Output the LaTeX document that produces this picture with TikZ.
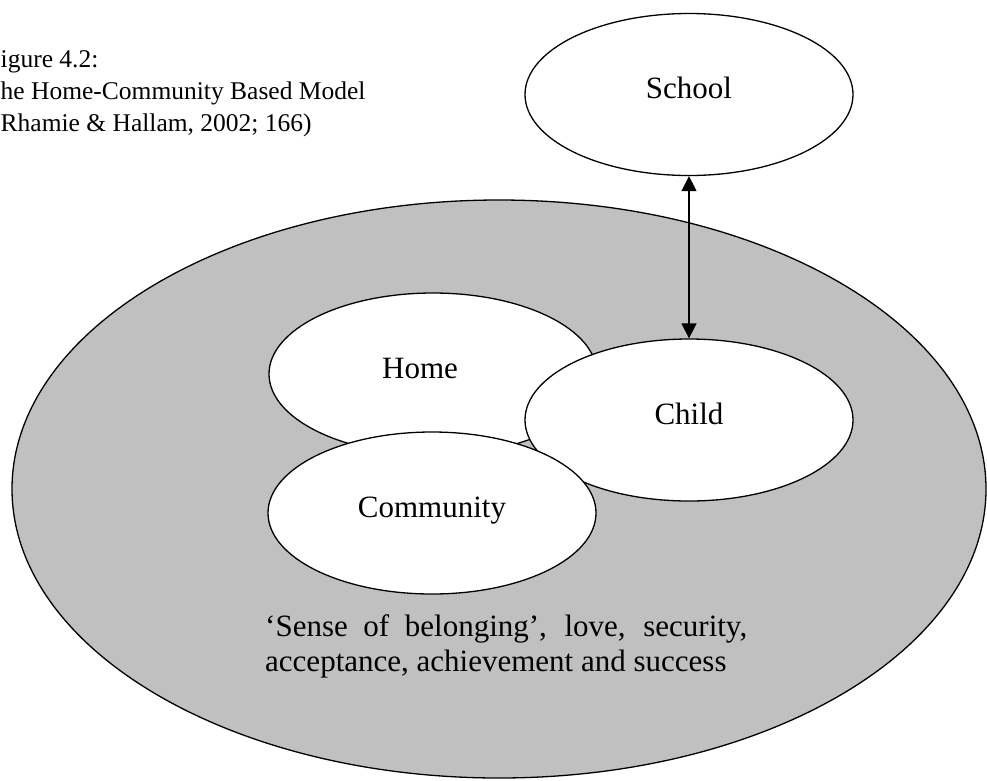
\documentclass[tikz,border=0pt]{standalone}
\usepackage{fontspec}
\setmainfont{Liberation Serif}
\usetikzlibrary{shapes.geometric,arrows.meta}
\definecolor{shade}{HTML}{C0C0C0}
\begin{document}
\begin{tikzpicture}[x=1pt,y=-1pt,
  bubble/.style={ellipse, draw=black, line width=1.3pt, fill=white,
    minimum width=328pt, minimum height=162pt, inner sep=0pt,
    font=\fontsize{31}{36}\selectfont, text height=20pt, text depth=12pt},
  link/.style={line width=1.5pt, {Triangle[width=15pt,length=15pt]}-{Triangle[width=15pt,length=15pt]}}]
\useasboundingbox (0,0) rectangle (987,780);
\clip (0,0) rectangle (987,780);
\node[ellipse, draw=black, line width=1.3pt, fill=shade, inner sep=0pt,
  minimum width=974pt, minimum height=578pt] (outer) at (499,489) {};
\node[bubble] (school) at (689,94.5) {School};
\node[bubble] (home) at (433,374) {Home\hspace*{26pt}};
\node[bubble] (child) at (689,420) {Child};
\node[bubble] (community) at (432,513) {Community};
\draw[link] (school.south) -- (child.north);
\node[anchor=north west, inner sep=0pt, align=left,
  font=\fontsize{25.5}{32}\selectfont] (caption) at (0.5,50.5)
  {igure 4.2:\\he Home-Community Based Model\\Rhamie \& Hallam, 2002; 166)};
\node[anchor=north west, inner sep=0pt, align=left,
  font=\fontsize{31}{35}\selectfont] (values) at (265,614)
  {\makebox[482pt][s]{‘Sense of belonging’, love, security,}\\acceptance, achievement and success};
\end{tikzpicture}
\end{document}
